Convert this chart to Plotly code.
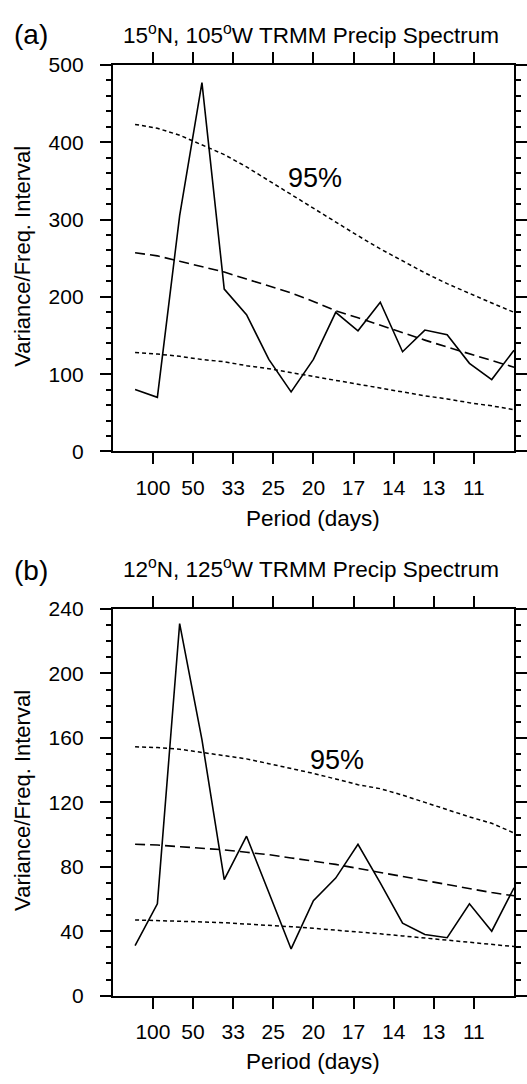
import plotly.graph_objects as go

# frequency (cycles/day)
freq = [1/180, 2/180, 3/180, 4/180, 5/180, 6/180, 7/180, 8/180, 9/180,
        10/180, 11/180, 12/180, 13/180, 14/180, 15/180, 16/180, 17/180, 18/180]

tick_freq = [0.01, 0.02, 0.03, 0.04, 0.05, 0.06, 0.07, 0.08, 0.09]
tick_period = ["100", "50", "33", "25", "20", "17", "14", "13", "11"]

# Panel (a): 15N, 105W
spec_a = [80, 70, 305, 477, 210, 177, 119, 77, 119, 180, 156, 193, 129, 157, 151, 114, 93, 131]
mean_a = [257, 253, 246, 239, 232, 223, 214, 205, 194, 182, 173, 163, 153, 144, 135, 126, 117, 109]
upper_a = [423, 418, 409, 397, 384, 368, 350, 332, 314, 296, 279, 262, 246, 231, 217, 204, 192, 180]
lower_a = [128, 126, 123, 119, 116, 111, 107, 102, 97, 92, 87, 82, 77, 72, 68, 63, 59, 54]

# Panel (b): 12N, 125W
spec_b = [31, 57, 231, 159, 72, 99, 64, 29, 59, 73, 94, 70, 45, 38, 36, 57, 40, 67]
mean_b = [94, 93.5, 92.5, 91.5, 90.5, 89, 87.5, 85.5, 83.5, 81.5, 79, 76.5, 74, 71.5, 69, 66.5, 64, 62]
upper_b = [154.5, 154, 153, 151, 149, 147, 144, 141, 138, 134.5, 131, 128.5, 124.5, 120, 115.5, 111, 107, 101]
lower_b = [47, 46.7, 46.3, 45.8, 45.3, 44.6, 43.8, 42.8, 41.8, 40.8, 39.6, 38.4, 37.1, 35.8, 34.6, 33.3, 32, 30.5]

FONT = "Liberation Sans, Arial, Helvetica, sans-serif"
W, H = 527, 1084

fig = go.Figure()

def add_panel(spec, mean, upper, lower, xa, ya):
    kw = dict(x=freq, mode="lines", xaxis=xa, yaxis=ya, showlegend=False, hoverinfo="skip")
    fig.add_trace(go.Scatter(y=upper, line=dict(color="black", width=1.5, dash="4px,3px"), **kw))
    fig.add_trace(go.Scatter(y=lower, line=dict(color="black", width=1.5, dash="4px,3px"), **kw))
    fig.add_trace(go.Scatter(y=mean, line=dict(color="black", width=1.6, dash="10px,5px"), **kw))
    fig.add_trace(go.Scatter(y=spec, line=dict(color="black", width=1.6), **kw))

add_panel(spec_a, mean_a, upper_a, lower_a, "x", "y")
add_panel(spec_b, mean_b, upper_b, lower_b, "x2", "y2")

xdom = [113 / W, 515 / W]

def py(p):
    return 1 - p / H

xcommon = dict(range=[0, 0.1], tickmode="array", tickvals=tick_freq, ticktext=tick_period,
               showline=True, linecolor="black", linewidth=2, mirror="ticks",
               ticks="outside", ticklen=11, tickwidth=2, tickcolor="black",
               showgrid=False, zeroline=False, domain=xdom,
               tickfont=dict(family=FONT, size=21, color="black"), ticklabelstandoff=5)

ycommon = dict(showline=True, linecolor="black", linewidth=2, mirror="ticks",
               ticks="outside", ticklen=11, tickwidth=2, tickcolor="black",
               showgrid=False, zeroline=False,
               tickfont=dict(family=FONT, size=21, color="black"), ticklabelstandoff=12)

fig.update_layout(
    width=W, height=H,
    margin=dict(l=0, r=0, t=0, b=0),
    paper_bgcolor="white", plot_bgcolor="white",
    xaxis=dict(anchor="y", **xcommon),
    xaxis2=dict(anchor="y2", **xcommon),
    yaxis=dict(anchor="x", domain=[py(449), py(54)], range=[0, 500], tickvals=[0, 100, 200, 300, 400, 500],
               minor=dict(dtick=20, ticks="outside", ticklen=5, tickwidth=1.5, tickcolor="black"), **ycommon),
    yaxis2=dict(anchor="x2", domain=[py(1005), py(610)], range=[0, 240], tickvals=[0, 40, 80, 120, 160, 200, 240],
                minor=dict(dtick=10, ticks="outside", ticklen=5, tickwidth=1.5, tickcolor="black"), **ycommon),
)

def ann(text, x, y, size, angle=0):
    fig.add_annotation(text=text, x=x / W, y=py(y), xref="paper", yref="paper",
                       showarrow=False, textangle=angle, xanchor="center", yanchor="middle",
                       font=dict(family=FONT, size=size, color="black"))

ann("(a)", 31, 23, 28)
ann("15<sup>o</sup>N, 105<sup>o</sup>W TRMM Precip Spectrum", 312, 22, 22.5)
ann("Variance/Freq. Interval", 23, 249, 22, -90)
ann("Period (days)", 314, 517, 22.5)
ann("95%", 316, 170, 27)

ann("(b)", 31, 571, 28)
ann("12<sup>o</sup>N, 125<sup>o</sup>W TRMM Precip Spectrum", 312, 568, 22.5)
ann("Variance/Freq. Interval", 23, 805, 22, -90)
ann("Period (days)", 314, 1072, 22.5)
ann("95%", 338, 764, 27)

fig.write_html("out.html")
